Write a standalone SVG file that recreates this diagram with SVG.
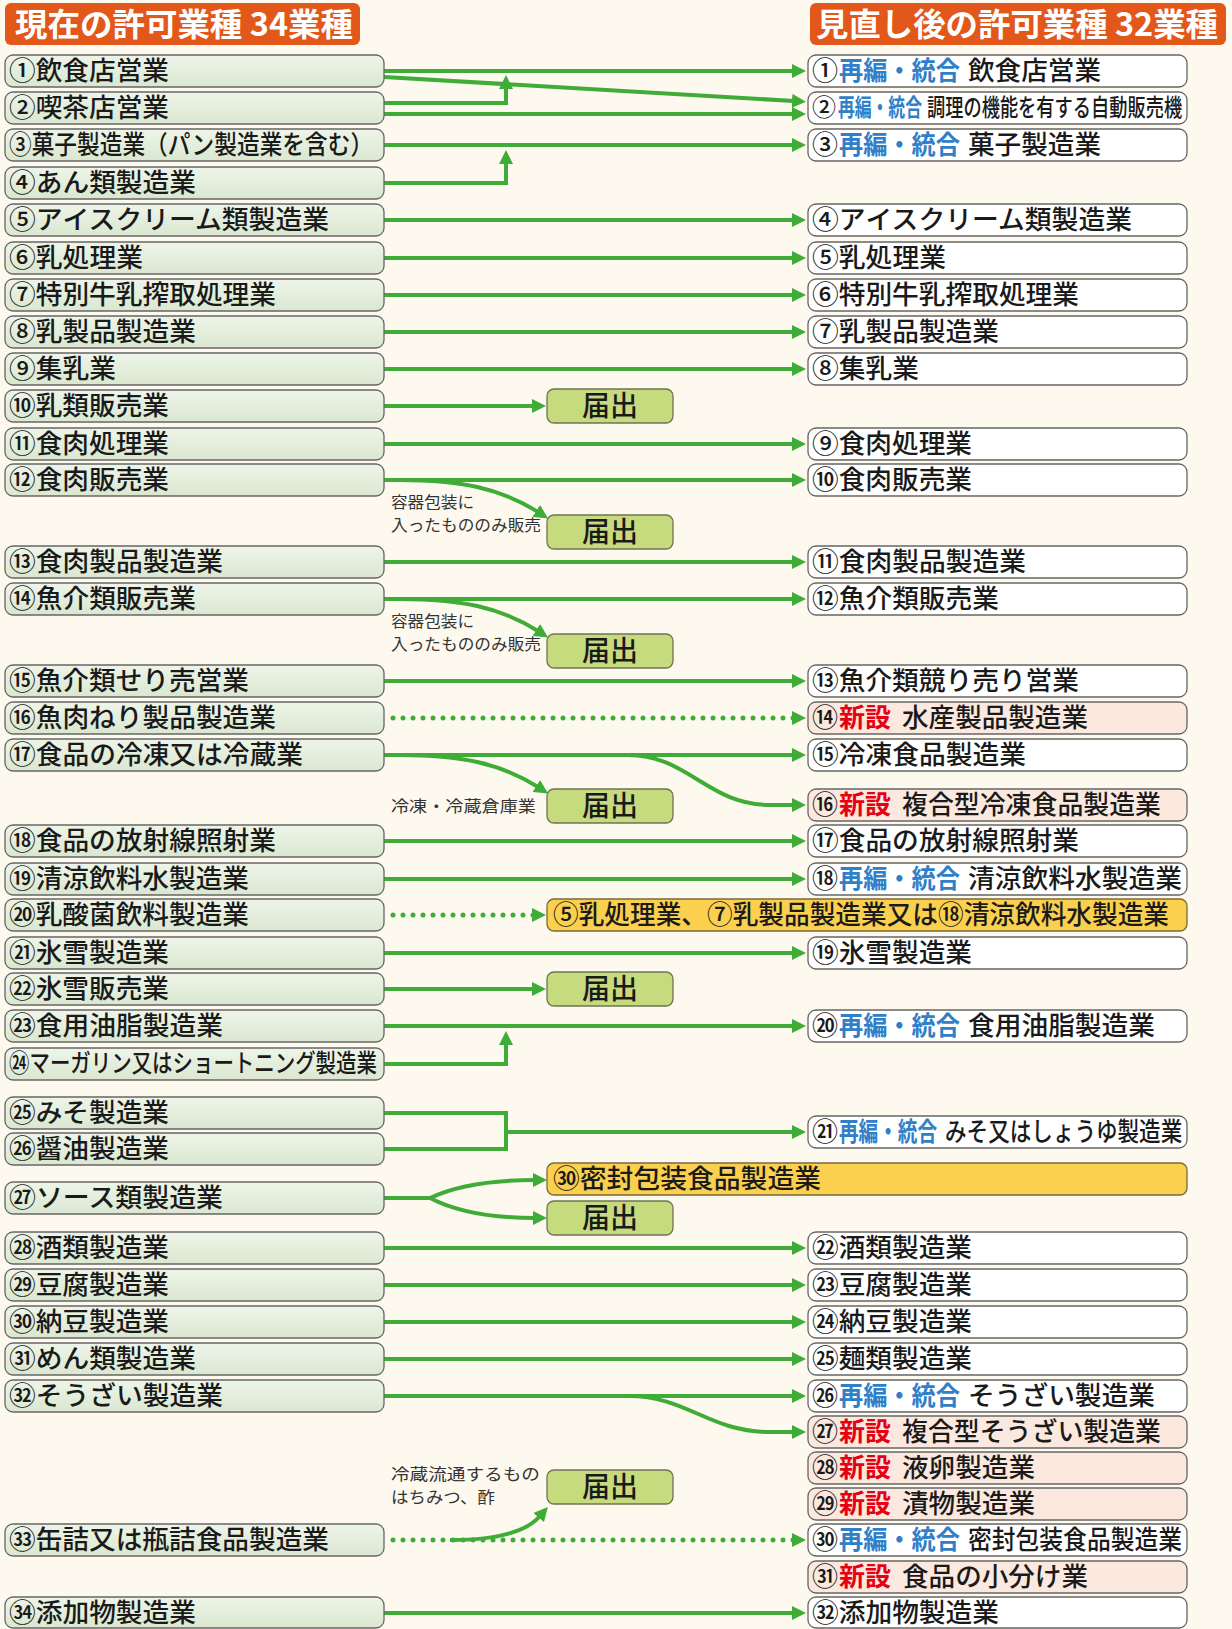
<svg xmlns="http://www.w3.org/2000/svg" width="1232" height="1629" viewBox="0 0 1232 1629">
<defs>
<linearGradient id="lg" x1="0" y1="0" x2="0" y2="1"><stop offset="0" stop-color="#EEF5E9"/><stop offset="1" stop-color="#DAE7D0"/></linearGradient>
<marker id="ah" markerUnits="userSpaceOnUse" viewBox="0 0 14 14" markerWidth="14" markerHeight="14" refX="2" refY="7" orient="auto"><path d="M0,0 L14,7 L0,14 z" fill="#40AC38"/></marker>
<style>
.lb{fill:url(#lg);stroke:#666;stroke-width:1.3}
.rb{fill:#fff;stroke:#666;stroke-width:1.3}
.pb{fill:#FBE8DE;stroke:#666;stroke-width:1.3}
.tb{fill:#C6DA7E;stroke:#6f7456;stroke-width:1.3}
.yb{fill:#FAD04E;stroke:#7a6a3a;stroke-width:1.3}
.hd{fill:#E2571A}
.t{font-family:"Noto Sans CJK JP","Noto Sans CJK SC",sans-serif;font-size:26px;font-weight:500;fill:#1a1a1a}
.sm{font-size:24px}
.f25{font-size:25px}
.tt{font-size:28px;text-anchor:middle}
.ht{font-family:"Noto Sans CJK JP",sans-serif;font-size:32px;font-weight:700;fill:#fff}
.s{font-family:"Noto Sans CJK JP",sans-serif;font-size:16px;fill:#333}
.bl{fill:#2F80C8;font-weight:700}
.rd{fill:#E60012;font-weight:700}
.c{fill:none;stroke:#40AC38;stroke-width:4}
.a{marker-end:url(#ah)}
.d{stroke-dasharray:0 10;stroke-linecap:round;stroke-width:5}
</style>
</defs>
<rect width="1232" height="1629" fill="#FDF9EE"/>
<g id="header-left"><rect class="hd" x="5" y="3" width="355" height="42" rx="6"/><text class="ht" x="15" y="36" textLength="338" lengthAdjust="spacingAndGlyphs">現在の許可業種 34業種</text></g>
<g id="header-right"><rect class="hd" x="810" y="3" width="416" height="42" rx="6"/><text class="ht" x="816" y="36" textLength="402" lengthAdjust="spacingAndGlyphs">見直し後の許可業種 32業種</text></g>

<g id="connectors">
<path class="c a" d="M384,71 H794"/>
<path class="c a" d="M384,77 L794,101"/>
<path class="c a" d="M384,103 H506 V87"/>
<path class="c a" d="M384,114 H794"/>
<path class="c a" d="M384,145 H794"/>
<path class="c a" d="M384,183 H506 V162"/>
<path class="c a" d="M384,220 H794"/>
<path class="c a" d="M384,258 H794"/>
<path class="c a" d="M384,295 H794"/>
<path class="c a" d="M384,332 H794"/>
<path class="c a" d="M384,369 H794"/>
<path class="c a" d="M384,406 H534"/>
<path class="c a" d="M384,444 H794"/>
<path class="c a" d="M384,480 H794"/>
<path class="c a" d="M400,480 C460,480 500,488 538,512"/>
<path class="c a" d="M384,562 H794"/>
<path class="c a" d="M384,599 H794"/>
<path class="c a" d="M400,599 C460,599 500,607 538,631"/>
<path class="c a" d="M384,681 H794"/>
<path class="c d a" d="M393,718 H794"/>
<path class="c a" d="M384,755 H794"/>
<path class="c a" d="M400,755 C460,755 500,763 538,787"/>
<path class="c a" d="M628,755 C688,755 708,805 770,805 H794"/>
<path class="c a" d="M384,841 H794"/>
<path class="c a" d="M384,879 H794"/>
<path class="c d a" d="M393,915 H534"/>
<path class="c a" d="M384,953 H794"/>
<path class="c a" d="M384,989 H534"/>
<path class="c a" d="M384,1026 H794"/>
<path class="c a" d="M384,1064 H506 V1043"/>
<path class="c" d="M384,1113 H506 V1149 H384"/>
<path class="c a" d="M506,1132 H794"/>
<path class="c" d="M384,1198 H432"/>
<path class="c a" d="M430,1198 Q468,1180 535,1180"/>
<path class="c a" d="M430,1198 Q468,1218 535,1218"/>
<path class="c a" d="M384,1248 H794"/>
<path class="c a" d="M384,1285 H794"/>
<path class="c a" d="M384,1322 H794"/>
<path class="c a" d="M384,1359 H794"/>
<path class="c a" d="M384,1396 H794"/>
<path class="c a" d="M628,1396 C688,1396 708,1432 770,1432 H794"/>
<path class="c d a" d="M393,1540 H794"/>
<path class="c a" d="M450,1540 C500,1540 528,1530 540,1516"/>
<path class="c a" d="M384,1613 H794"/>
</g>

<g id="labels">
<text class="s" x="391" y="508" textLength="83" lengthAdjust="spacingAndGlyphs">容器包装に</text>
<text class="s" x="391" y="531" textLength="150" lengthAdjust="spacingAndGlyphs">入ったもののみ販売</text>
<text class="s" x="391" y="627" textLength="83" lengthAdjust="spacingAndGlyphs">容器包装に</text>
<text class="s" x="391" y="650" textLength="150" lengthAdjust="spacingAndGlyphs">入ったもののみ販売</text>
<text class="s" x="391" y="812" textLength="145" lengthAdjust="spacingAndGlyphs">冷凍・冷蔵倉庫業</text>
<text class="s" x="391" y="1480" textLength="149" lengthAdjust="spacingAndGlyphs">冷蔵流通するもの</text>
<text class="s" x="391" y="1503" textLength="104" lengthAdjust="spacingAndGlyphs">はちみつ、酢</text>
</g>

<g id="L1"><rect class="lb" x="5" y="55" width="379" height="32" rx="8"/><text class="t" x="9" y="80" textLength="160" lengthAdjust="spacingAndGlyphs">①飲食店営業</text></g>
<g id="L2"><rect class="lb" x="5" y="92" width="379" height="32" rx="8"/><text class="t" x="9" y="117" textLength="160" lengthAdjust="spacingAndGlyphs">②喫茶店営業</text></g>
<g id="L3"><rect class="lb" x="5" y="129" width="379" height="32" rx="8"/><text class="t" transform="translate(9,154) scale(0.873,1)">③菓子製造業（パン製造業を含む）</text></g>
<g id="L4"><rect class="lb" x="5" y="167" width="379" height="32" rx="8"/><text class="t" x="9" y="192" textLength="187" lengthAdjust="spacingAndGlyphs">④あん類製造業</text></g>
<g id="L5"><rect class="lb" x="5" y="204" width="379" height="32" rx="8"/><text class="t" x="9" y="229" textLength="320" lengthAdjust="spacingAndGlyphs">⑤アイスクリーム類製造業</text></g>
<g id="L6"><rect class="lb" x="5" y="242" width="379" height="32" rx="8"/><text class="t" x="9" y="267" textLength="134" lengthAdjust="spacingAndGlyphs">⑥乳処理業</text></g>
<g id="L7"><rect class="lb" x="5" y="279" width="379" height="32" rx="8"/><text class="t" x="9" y="304" textLength="267" lengthAdjust="spacingAndGlyphs">⑦特別牛乳搾取処理業</text></g>
<g id="L8"><rect class="lb" x="5" y="316" width="379" height="32" rx="8"/><text class="t" x="9" y="341" textLength="187" lengthAdjust="spacingAndGlyphs">⑧乳製品製造業</text></g>
<g id="L9"><rect class="lb" x="5" y="353" width="379" height="32" rx="8"/><text class="t" x="9" y="378" textLength="107" lengthAdjust="spacingAndGlyphs">⑨集乳業</text></g>
<g id="L10"><rect class="lb" x="5" y="390" width="379" height="32" rx="8"/><text class="t" x="9" y="415" textLength="160" lengthAdjust="spacingAndGlyphs">⑩乳類販売業</text></g>
<g id="L11"><rect class="lb" x="5" y="428" width="379" height="32" rx="8"/><text class="t" x="9" y="453" textLength="160" lengthAdjust="spacingAndGlyphs">⑪食肉処理業</text></g>
<g id="L12"><rect class="lb" x="5" y="464" width="379" height="32" rx="8"/><text class="t" x="9" y="489" textLength="160" lengthAdjust="spacingAndGlyphs">⑫食肉販売業</text></g>
<g id="L13"><rect class="lb" x="5" y="546" width="379" height="32" rx="8"/><text class="t" x="9" y="571" textLength="214" lengthAdjust="spacingAndGlyphs">⑬食肉製品製造業</text></g>
<g id="L14"><rect class="lb" x="5" y="583" width="379" height="32" rx="8"/><text class="t" x="9" y="608" textLength="187" lengthAdjust="spacingAndGlyphs">⑭魚介類販売業</text></g>
<g id="L15"><rect class="lb" x="5" y="665" width="379" height="32" rx="8"/><text class="t" x="9" y="690" textLength="240" lengthAdjust="spacingAndGlyphs">⑮魚介類せり売営業</text></g>
<g id="L16"><rect class="lb" x="5" y="702" width="379" height="32" rx="8"/><text class="t" x="9" y="727" textLength="267" lengthAdjust="spacingAndGlyphs">⑯魚肉ねり製品製造業</text></g>
<g id="L17"><rect class="lb" x="5" y="739" width="379" height="32" rx="8"/><text class="t" x="9" y="764" textLength="294" lengthAdjust="spacingAndGlyphs">⑰食品の冷凍又は冷蔵業</text></g>
<g id="L18"><rect class="lb" x="5" y="825" width="379" height="32" rx="8"/><text class="t" x="9" y="850" textLength="267" lengthAdjust="spacingAndGlyphs">⑱食品の放射線照射業</text></g>
<g id="L19"><rect class="lb" x="5" y="863" width="379" height="32" rx="8"/><text class="t" x="9" y="888" textLength="240" lengthAdjust="spacingAndGlyphs">⑲清涼飲料水製造業</text></g>
<g id="L20"><rect class="lb" x="5" y="899" width="379" height="32" rx="8"/><text class="t" x="9" y="924" textLength="240" lengthAdjust="spacingAndGlyphs">⑳乳酸菌飲料製造業</text></g>
<g id="L21"><rect class="lb" x="5" y="937" width="379" height="32" rx="8"/><text class="t" x="9" y="962" textLength="160" lengthAdjust="spacingAndGlyphs">㉑氷雪製造業</text></g>
<g id="L22"><rect class="lb" x="5" y="973" width="379" height="32" rx="8"/><text class="t" x="9" y="998" textLength="160" lengthAdjust="spacingAndGlyphs">㉒氷雪販売業</text></g>
<g id="L23"><rect class="lb" x="5" y="1010" width="379" height="32" rx="8"/><text class="t" x="9" y="1035" textLength="214" lengthAdjust="spacingAndGlyphs">㉓食用油脂製造業</text></g>
<g id="L24"><rect class="lb" x="5" y="1048" width="379" height="32" rx="8"/><text class="t f25" transform="translate(9,1072) scale(0.818,1)">㉔マーガリン又はショートニング製造業</text></g>
<g id="L25"><rect class="lb" x="5" y="1097" width="379" height="32" rx="8"/><text class="t" x="9" y="1122" textLength="160" lengthAdjust="spacingAndGlyphs">㉕みそ製造業</text></g>
<g id="L26"><rect class="lb" x="5" y="1133" width="379" height="32" rx="8"/><text class="t" x="9" y="1158" textLength="160" lengthAdjust="spacingAndGlyphs">㉖醤油製造業</text></g>
<g id="L27"><rect class="lb" x="5" y="1182" width="379" height="32" rx="8"/><text class="t" x="9" y="1207" textLength="214" lengthAdjust="spacingAndGlyphs">㉗ソース類製造業</text></g>
<g id="L28"><rect class="lb" x="5" y="1232" width="379" height="32" rx="8"/><text class="t" x="9" y="1257" textLength="160" lengthAdjust="spacingAndGlyphs">㉘酒類製造業</text></g>
<g id="L29"><rect class="lb" x="5" y="1269" width="379" height="32" rx="8"/><text class="t" x="9" y="1294" textLength="160" lengthAdjust="spacingAndGlyphs">㉙豆腐製造業</text></g>
<g id="L30"><rect class="lb" x="5" y="1306" width="379" height="32" rx="8"/><text class="t" x="9" y="1331" textLength="160" lengthAdjust="spacingAndGlyphs">㉚納豆製造業</text></g>
<g id="L31"><rect class="lb" x="5" y="1343" width="379" height="32" rx="8"/><text class="t" x="9" y="1368" textLength="187" lengthAdjust="spacingAndGlyphs">㉛めん類製造業</text></g>
<g id="L32"><rect class="lb" x="5" y="1380" width="379" height="32" rx="8"/><text class="t" x="9" y="1405" textLength="214" lengthAdjust="spacingAndGlyphs">㉜そうざい製造業</text></g>
<g id="L33"><rect class="lb" x="5" y="1524" width="379" height="32" rx="8"/><text class="t" x="9" y="1549" textLength="320" lengthAdjust="spacingAndGlyphs">㉝缶詰又は瓶詰食品製造業</text></g>
<g id="L34"><rect class="lb" x="5" y="1597" width="379" height="31" rx="8"/><text class="t" x="9" y="1622" textLength="187" lengthAdjust="spacingAndGlyphs">㉞添加物製造業</text></g>

<g id="T1"><rect class="tb" x="547" y="389" width="126" height="34" rx="7"/><text class="t tt" x="610" y="416">届出</text></g>
<g id="T2"><rect class="tb" x="547" y="515" width="126" height="34" rx="7"/><text class="t tt" x="610" y="542">届出</text></g>
<g id="T3"><rect class="tb" x="547" y="634" width="126" height="34" rx="7"/><text class="t tt" x="610" y="661">届出</text></g>
<g id="T4"><rect class="tb" x="547" y="789" width="126" height="34" rx="7"/><text class="t tt" x="610" y="816">届出</text></g>
<g id="T5"><rect class="tb" x="547" y="972" width="126" height="34" rx="7"/><text class="t tt" x="610" y="999">届出</text></g>
<g id="T6"><rect class="tb" x="547" y="1201" width="126" height="34" rx="7"/><text class="t tt" x="610" y="1228">届出</text></g>
<g id="T7"><rect class="tb" x="547" y="1470" width="126" height="34" rx="7"/><text class="t tt" x="610" y="1497">届出</text></g>

<g id="Y1"><rect class="yb" x="547" y="899" width="640" height="32" rx="7"/><text class="t" x="553" y="924" textLength="616" lengthAdjust="spacingAndGlyphs">⑤乳処理業、⑦乳製品製造業又は⑱清涼飲料水製造業</text></g>
<g id="Y2"><rect class="yb" x="547" y="1163" width="640" height="32" rx="7"/><text class="t" x="553" y="1188" textLength="268" lengthAdjust="spacingAndGlyphs">㉚密封包装食品製造業</text></g>

<g id="R1"><rect class="rb" x="808" y="55" width="379" height="32" rx="8"/><text class="t" x="812" y="80">①</text><text class="t bl" transform="translate(839,80) scale(0.93,1)">再編・統合</text><text class="t" x="968" y="80" textLength="133" lengthAdjust="spacingAndGlyphs">飲食店営業</text></g>
<g id="R2"><rect class="rb" x="808" y="92" width="379" height="32" rx="8"/><text class="t sm" x="812" y="116">②</text><text class="t sm bl" transform="translate(838,116) scale(0.7,1)">再編・統合</text><text class="t sm" transform="translate(927,116) scale(0.76,1)">調理の機能を有する自動販売機</text></g>
<g id="R3"><rect class="rb" x="808" y="129" width="379" height="32" rx="8"/><text class="t" x="812" y="154">③</text><text class="t bl" transform="translate(839,154) scale(0.93,1)">再編・統合</text><text class="t" x="968" y="154" textLength="133" lengthAdjust="spacingAndGlyphs">菓子製造業</text></g>
<g id="R4"><rect class="rb" x="808" y="204" width="379" height="32" rx="8"/><text class="t" x="812" y="229" textLength="320" lengthAdjust="spacingAndGlyphs">④アイスクリーム類製造業</text></g>
<g id="R5"><rect class="rb" x="808" y="242" width="379" height="32" rx="8"/><text class="t" x="812" y="267" textLength="134" lengthAdjust="spacingAndGlyphs">⑤乳処理業</text></g>
<g id="R6"><rect class="rb" x="808" y="279" width="379" height="32" rx="8"/><text class="t" x="812" y="304" textLength="267" lengthAdjust="spacingAndGlyphs">⑥特別牛乳搾取処理業</text></g>
<g id="R7"><rect class="rb" x="808" y="316" width="379" height="32" rx="8"/><text class="t" x="812" y="341" textLength="187" lengthAdjust="spacingAndGlyphs">⑦乳製品製造業</text></g>
<g id="R8"><rect class="rb" x="808" y="353" width="379" height="32" rx="8"/><text class="t" x="812" y="378" textLength="107" lengthAdjust="spacingAndGlyphs">⑧集乳業</text></g>
<g id="R9"><rect class="rb" x="808" y="428" width="379" height="32" rx="8"/><text class="t" x="812" y="453" textLength="160" lengthAdjust="spacingAndGlyphs">⑨食肉処理業</text></g>
<g id="R10"><rect class="rb" x="808" y="464" width="379" height="32" rx="8"/><text class="t" x="812" y="489" textLength="160" lengthAdjust="spacingAndGlyphs">⑩食肉販売業</text></g>
<g id="R11"><rect class="rb" x="808" y="546" width="379" height="32" rx="8"/><text class="t" x="812" y="571" textLength="214" lengthAdjust="spacingAndGlyphs">⑪食肉製品製造業</text></g>
<g id="R12"><rect class="rb" x="808" y="583" width="379" height="32" rx="8"/><text class="t" x="812" y="608" textLength="187" lengthAdjust="spacingAndGlyphs">⑫魚介類販売業</text></g>
<g id="R13"><rect class="rb" x="808" y="665" width="379" height="32" rx="8"/><text class="t" x="812" y="690" textLength="267" lengthAdjust="spacingAndGlyphs">⑬魚介類競り売り営業</text></g>
<g id="R14"><rect class="pb" x="808" y="702" width="379" height="32" rx="8"/><text class="t" x="812" y="727">⑭</text><text class="t rd" x="839" y="727">新設</text><text class="t" x="902" y="727" textLength="186" lengthAdjust="spacingAndGlyphs">水産製品製造業</text></g>
<g id="R15"><rect class="rb" x="808" y="739" width="379" height="32" rx="8"/><text class="t" x="812" y="764" textLength="214" lengthAdjust="spacingAndGlyphs">⑮冷凍食品製造業</text></g>
<g id="R16"><rect class="pb" x="808" y="789" width="379" height="32" rx="8"/><text class="t" x="812" y="814">⑯</text><text class="t rd" x="839" y="814">新設</text><text class="t" x="902" y="814" textLength="259" lengthAdjust="spacingAndGlyphs">複合型冷凍食品製造業</text></g>
<g id="R17"><rect class="rb" x="808" y="825" width="379" height="32" rx="8"/><text class="t" x="812" y="850" textLength="267" lengthAdjust="spacingAndGlyphs">⑰食品の放射線照射業</text></g>
<g id="R18"><rect class="rb" x="808" y="863" width="379" height="32" rx="8"/><text class="t" x="812" y="888">⑱</text><text class="t bl" transform="translate(839,888) scale(0.93,1)">再編・統合</text><text class="t" x="968" y="888" textLength="214" lengthAdjust="spacingAndGlyphs">清涼飲料水製造業</text></g>
<g id="R19"><rect class="rb" x="808" y="937" width="379" height="32" rx="8"/><text class="t" x="812" y="962" textLength="160" lengthAdjust="spacingAndGlyphs">⑲氷雪製造業</text></g>
<g id="R20"><rect class="rb" x="808" y="1010" width="379" height="32" rx="8"/><text class="t" x="812" y="1035">⑳</text><text class="t bl" transform="translate(839,1035) scale(0.93,1)">再編・統合</text><text class="t" x="968" y="1035" textLength="187" lengthAdjust="spacingAndGlyphs">食用油脂製造業</text></g>
<g id="R21"><rect class="rb" x="808" y="1116" width="379" height="32" rx="8"/><text class="t" x="812" y="1141">㉑</text><text class="t bl" transform="translate(839,1141) scale(0.754,1)">再編・統合</text><text class="t" transform="translate(945,1141) scale(0.83,1)">みそ又はしょうゆ製造業</text></g>
<g id="R22"><rect class="rb" x="808" y="1232" width="379" height="32" rx="8"/><text class="t" x="812" y="1257" textLength="160" lengthAdjust="spacingAndGlyphs">㉒酒類製造業</text></g>
<g id="R23"><rect class="rb" x="808" y="1269" width="379" height="32" rx="8"/><text class="t" x="812" y="1294" textLength="160" lengthAdjust="spacingAndGlyphs">㉓豆腐製造業</text></g>
<g id="R24"><rect class="rb" x="808" y="1306" width="379" height="32" rx="8"/><text class="t" x="812" y="1331" textLength="160" lengthAdjust="spacingAndGlyphs">㉔納豆製造業</text></g>
<g id="R25"><rect class="rb" x="808" y="1343" width="379" height="32" rx="8"/><text class="t" x="812" y="1368" textLength="160" lengthAdjust="spacingAndGlyphs">㉕麺類製造業</text></g>
<g id="R26"><rect class="rb" x="808" y="1380" width="379" height="32" rx="8"/><text class="t" x="812" y="1405">㉖</text><text class="t bl" transform="translate(839,1405) scale(0.93,1)">再編・統合</text><text class="t" x="968" y="1405" textLength="187" lengthAdjust="spacingAndGlyphs">そうざい製造業</text></g>
<g id="R27"><rect class="pb" x="808" y="1416" width="379" height="32" rx="8"/><text class="t" x="812" y="1441">㉗</text><text class="t rd" x="839" y="1441">新設</text><text class="t" x="902" y="1441" textLength="259" lengthAdjust="spacingAndGlyphs">複合型そうざい製造業</text></g>
<g id="R28"><rect class="pb" x="808" y="1452" width="379" height="32" rx="8"/><text class="t" x="812" y="1477">㉘</text><text class="t rd" x="839" y="1477">新設</text><text class="t" x="902" y="1477" textLength="133" lengthAdjust="spacingAndGlyphs">液卵製造業</text></g>
<g id="R29"><rect class="pb" x="808" y="1488" width="379" height="32" rx="8"/><text class="t" x="812" y="1513">㉙</text><text class="t rd" x="839" y="1513">新設</text><text class="t" x="902" y="1513" textLength="133" lengthAdjust="spacingAndGlyphs">漬物製造業</text></g>
<g id="R30"><rect class="rb" x="808" y="1524" width="379" height="32" rx="8"/><text class="t" x="812" y="1549">㉚</text><text class="t bl" transform="translate(839,1549) scale(0.93,1)">再編・統合</text><text class="t" transform="translate(968,1549) scale(0.915,1)">密封包装食品製造業</text></g>
<g id="R31"><rect class="pb" x="808" y="1561" width="379" height="32" rx="8"/><text class="t" x="812" y="1586">㉛</text><text class="t rd" x="839" y="1586">新設</text><text class="t" x="902" y="1586" textLength="186" lengthAdjust="spacingAndGlyphs">食品の小分け業</text></g>
<g id="R32"><rect class="rb" x="808" y="1597" width="379" height="31" rx="8"/><text class="t" x="812" y="1622" textLength="187" lengthAdjust="spacingAndGlyphs">㉜添加物製造業</text></g>
</svg>
